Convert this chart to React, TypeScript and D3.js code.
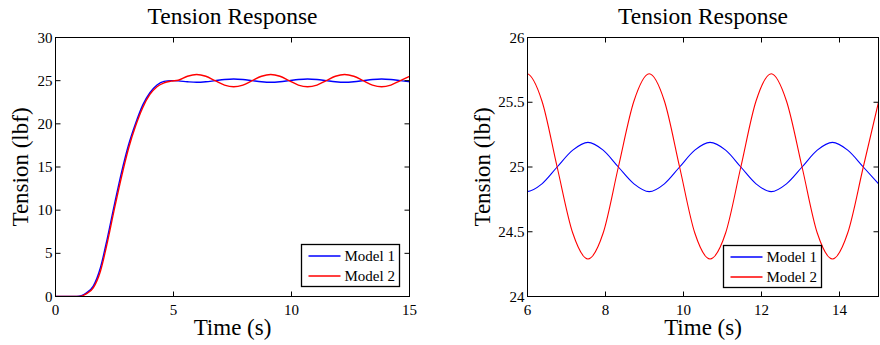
import React from 'react';
import * as d3 from 'd3';

// time samples (s), shared by both models
const timeS = [0, 0.5, 0.9, 1.1, 1.3, 1.6, 1.9, 2.2, 2.5, 2.8, 3.1, 3.4, 3.7, 4.0, 4.3,
  4.6, 4.9, 5.2, 5.59, 5.98, 6.37, 6.76, 7.16, 7.55, 7.94, 8.33, 8.73, 9.12, 9.51, 9.9,
  10.29, 10.68, 11.08, 11.47, 11.86, 12.25, 12.64, 13.04, 13.43, 13.82, 14.21, 14.61, 15.0];

// tension (lbf)
const model1 = [0, 0, 0, 0.1, 0.4, 1.2, 3.3, 6.8, 10.7, 14.4, 17.6, 20.1, 22.2, 23.6, 24.5,
  24.92, 25.0, 24.97, 24.87, 24.81, 24.87, 25.0, 25.13, 25.19, 25.13, 25.0, 24.87, 24.81, 24.87, 25.0,
  25.13, 25.19, 25.13, 25.0, 24.87, 24.81, 24.87, 25.0, 25.13, 25.19, 25.13, 25.0, 24.87];
const model2 = [0, 0, 0, 0.05, 0.3, 1.0, 2.9, 6.3, 10.2, 13.9, 17.2, 19.8, 21.9, 23.4, 24.3,
  24.75, 24.95, 25.05, 25.51, 25.72, 25.51, 25.0, 24.49, 24.29, 24.49, 25.0, 25.51, 25.72, 25.51, 25.0,
  24.49, 24.29, 24.49, 25.0, 25.51, 25.72, 25.51, 25.0, 24.49, 24.29, 24.49, 25.0, 25.5];

const seriesNames = ['Model 1', 'Model 2'];
const seriesColors = ['#0000ff', '#ff0000'];

const leftXTicks = [0, 5, 10, 15];
const leftYTicks = [0, 5, 10, 15, 20, 25, 30];
const rightXTicks = [6, 8, 10, 12, 14];
const rightYTicks = [24, 24.5, 25, 25.5, 26];

const FONT = '"Liberation Serif", "Times New Roman", serif';
const TICK = 5;

const Panel = (props) => {
  const {id, x0, x1, y0, y1, xDomain, yDomain, xTicks, yTicks, legend, lineW} = props;
  const x = d3.scaleLinear().domain(xDomain).range([x0, x1]);
  const y = d3.scaleLinear().domain(yDomain).range([y1, y0]);
  const line = d3.line<number>()
    .x((d, i) => x(timeS[i]))
    .y(d => y(d))
    .curve(d3.curveMonotoneX);
  const cx = (x0 + x1) / 2;
  const cy = (y0 + y1) / 2;

  return (
    <g fontFamily={FONT} fill="#000">
      <defs>
        <clipPath id={id}>
          <rect x={x0} y={y0} width={x1 - x0} height={y1 - y0} />
        </clipPath>
      </defs>
      <g clipPath={`url(#${id})`}>
        {[model1, model2].map((s, i) =>
          <path key={i} d={line(s) || ''} fill="none" stroke={seriesColors[i]} strokeWidth={lineW} />)}
      </g>
      <rect x={x0} y={y0} width={x1 - x0} height={y1 - y0} fill="none" stroke="#000" strokeWidth={1} />
      {xTicks.map(t => (
        <g key={'x' + t}>
          <line x1={x(t)} x2={x(t)} y1={y1} y2={y1 - TICK} stroke="#000" />
          <line x1={x(t)} x2={x(t)} y1={y0} y2={y0 + TICK} stroke="#000" />
          <text x={x(t)} y={y1 + 18} fontSize={15} textAnchor="middle">{String(t)}</text>
        </g>
      ))}
      {yTicks.map(t => (
        <g key={'y' + t}>
          <line x1={x0} x2={x0 + TICK} y1={y(t)} y2={y(t)} stroke="#000" />
          <line x1={x1} x2={x1 - TICK} y1={y(t)} y2={y(t)} stroke="#000" />
          <text x={x0 - 3} y={y(t)} fontSize={15} textAnchor="end" dominantBaseline="central">{String(t)}</text>
        </g>
      ))}
      <text x={cx} y={24} fontSize={23.5} textAnchor="middle">Tension Response</text>
      <text x={cx} y={335} fontSize={23} textAnchor="middle">Time (s)</text>
      <text transform={`translate(${props.yLabelX},${cy}) rotate(-90)`} fontSize={23} textAnchor="middle">Tension (lbf)</text>
      <rect x={legend.x} y={legend.y} width={legend.w} height={legend.h} fill="#fff" stroke="#000" strokeWidth={1.3} />
      {seriesNames.map((n, i) => {
        const ry = legend.y + 11.5 + i * 20;
        return (
          <g key={n}>
            <line x1={legend.x + 7} x2={legend.x + 39} y1={ry} y2={ry} stroke={seriesColors[i]} strokeWidth={1.4} />
            <text x={legend.x + 43} y={ry} fontSize={15} dominantBaseline="central">{n}</text>
          </g>
        );
      })}
    </g>
  );
};

export default function App() {
  return (
    <svg width={880} height={345} style={{position: 'absolute', left: 0, top: 0, background: '#fff'}}>
      <Panel id="clipL" x0={55.5} x1={409.5} y0={37.5} y1={296.5} xDomain={[0, 15]} yDomain={[0, 30]}
        xTicks={leftXTicks} yTicks={leftYTicks} yLabelX={28} lineW={1.4}
        legend={{x: 301.5, y: 244.5, w: 98, h: 42}} />
      <Panel id="clipR" x0={527.5} x1={878.5} y0={37.5} y1={296.5} xDomain={[6, 15]} yDomain={[24, 26]}
        xTicks={rightXTicks} yTicks={rightYTicks} yLabelX={490} lineW={1.1}
        legend={{x: 723.5, y: 245.5, w: 98, h: 42}} />
    </svg>
  );
}
